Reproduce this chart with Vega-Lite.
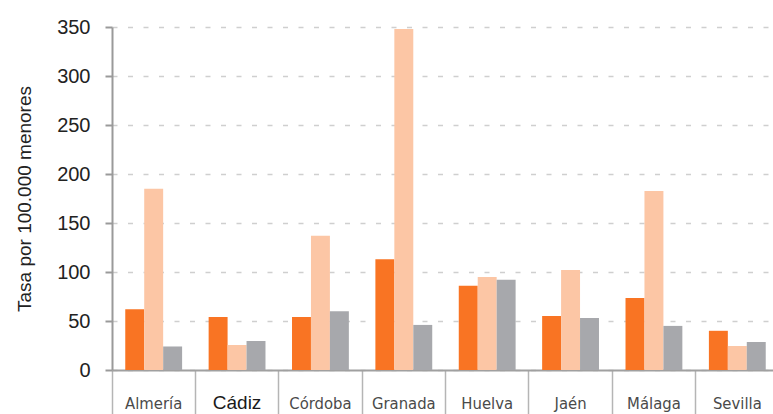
{
  "$schema": "https://vega.github.io/schema/vega-lite/v6.json",
  "width": 667,
  "height": 343,
  "autosize": {"type": "none"},
  "padding": {"left": 112, "top": 27, "right": 0, "bottom": 44},
  "background": "white",
  "config": {"view": {"stroke": null}},
  "data": {
    "values": [
      {"provincia": "Almería", "serie": "A", "tasa": 62},
      {"provincia": "Almería", "serie": "B", "tasa": 185},
      {"provincia": "Almería", "serie": "C", "tasa": 24},
      {"provincia": "Cádiz", "serie": "A", "tasa": 54},
      {"provincia": "Cádiz", "serie": "B", "tasa": 25.5},
      {"provincia": "Cádiz", "serie": "C", "tasa": 29.6},
      {"provincia": "Córdoba", "serie": "A", "tasa": 54},
      {"provincia": "Córdoba", "serie": "B", "tasa": 137},
      {"provincia": "Córdoba", "serie": "C", "tasa": 60},
      {"provincia": "Granada", "serie": "A", "tasa": 113},
      {"provincia": "Granada", "serie": "B", "tasa": 348},
      {"provincia": "Granada", "serie": "C", "tasa": 46},
      {"provincia": "Huelva", "serie": "A", "tasa": 86},
      {"provincia": "Huelva", "serie": "B", "tasa": 95},
      {"provincia": "Huelva", "serie": "C", "tasa": 92},
      {"provincia": "Jaén", "serie": "A", "tasa": 55},
      {"provincia": "Jaén", "serie": "B", "tasa": 102},
      {"provincia": "Jaén", "serie": "C", "tasa": 53},
      {"provincia": "Málaga", "serie": "A", "tasa": 73.5},
      {"provincia": "Málaga", "serie": "B", "tasa": 182.6},
      {"provincia": "Málaga", "serie": "C", "tasa": 45},
      {"provincia": "Sevilla", "serie": "A", "tasa": 40},
      {"provincia": "Sevilla", "serie": "B", "tasa": 24.5},
      {"provincia": "Sevilla", "serie": "C", "tasa": 28.6}
    ]
  },
  "mark": {"type": "bar"},
  "encoding": {
    "x": {
      "field": "provincia",
      "type": "nominal",
      "sort": null,
      "scale": {"paddingInner": 0, "paddingOuter": 0},
      "axis": {
        "title": null,
        "labelAngle": 0,
        "bandPosition": 0,
        "tickSize": 44,
        "tickColor": "#b5b5b5",
        "tickWidth": 1.5,
        "domainColor": "#a0a0a0",
        "domainWidth": 2,
        "labelPadding": -6,
        "labelBaseline": "alphabetic",
        "labelFont": {"condition": {"test": "datum.value == 'Cádiz'", "value": "Liberation Sans"}, "value": "DejaVu Sans Condensed, Roboto, sans-serif"},
        "labelFontSize": {"condition": {"test": "datum.value == 'Cádiz'", "value": 19}, "value": 16.5},
        "labelColor": {"condition": {"test": "datum.value == 'Cádiz'", "value": "#1a1a1a"}, "value": "#4a4a4a"},
        "grid": false
      }
    },
    "xOffset": {
      "field": "serie",
      "type": "nominal",
      "scale": {"paddingInner": 0, "paddingOuter": 0.7}
    },
    "y": {
      "field": "tasa",
      "type": "quantitative",
      "scale": {"domain": [0, 350], "nice": false},
      "axis": {
        "title": "Tasa por 100.000 menores",
        "titleFont": "Liberation Sans",
        "titleFontSize": 19,
        "titleFontWeight": "normal",
        "titleColor": "#222222",
        "titlePadding": 22,
        "values": [0, 50, 100, 150, 200, 250, 300, 350],
        "labelFont": "Liberation Sans",
        "labelFontSize": 20,
        "labelColor": "#222222",
        "labelPadding": 15,
        "tickSize": 7,
        "tickColor": "#9a9a9a",
        "tickWidth": 2,
        "domainColor": "#9a9a9a",
        "domainWidth": 2,
        "grid": true,
        "gridColor": "#cfcfcf",
        "gridDash": [5, 10.5],
        "gridWidth": 1.5
      }
    },
    "color": {
      "field": "serie",
      "type": "nominal",
      "scale": {"domain": ["A", "B", "C"], "range": ["#F97423", "#FCC6A5", "#A7A8AC"]},
      "legend": null
    }
  }
}
